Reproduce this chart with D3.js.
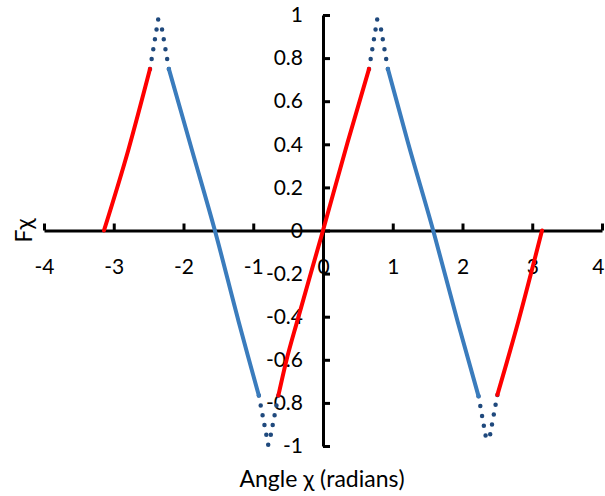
<!DOCTYPE html>
<html>
<head>
<meta charset="utf-8">
<script src="https://cdn.jsdelivr.net/npm/d3@7"></script>
<style>
  body { margin: 0; background: #fff; }
  text { font-family: Lato, "Open Sans", sans-serif; fill: #000; }
</style>
</head>
<body>
<div class="chart"></div>
<script>
// values
var xTicks = [-4, -3, -2, -1, 0, 1, 2, 3, 4]
var yTicks = [-1, -0.8, -0.6, -0.4, -0.2, 0, 0.2, 0.4, 0.6, 0.8, 1]

var redX = [[-3.14, -2.79, -2.48], [-0.64, -0.53, -0.36, 0, 0.35, 0.66], [2.5, 2.8, 3.14]]
var redY = [[0, 0.375, 0.75], [-0.766, -0.61, -0.41, 0, 0.406, 0.75], [-0.763, -0.422, 0]]

var blueX = [[-2.21, -1.88, -1.55, -1.21, -1.08, -0.92], [0.93, 1.22, 1.58, 1.93, 2.23]]
var blueY = [[0.75, 0.375, 0, -0.422, -0.578, -0.766], [0.75, 0.406, 0, -0.422, -0.769]]

var dotX = [[-2.48, -2.36], [-2.21, -2.33], [-0.92, -0.785], [-0.64, -0.77], [0.66, 0.78], [0.93, 0.81], [2.23, 2.355], [2.5, 2.375]]
var dotY = [[0.75, 0.985], [0.75, 0.975], [-0.766, -0.995], [-0.766, -0.985], [0.75, 0.985], [0.75, 0.975], [-0.769, -0.995], [-0.763, -0.985]]

var width = 605, height = 496

var svg = d3.select(".chart").append("svg").attr("width", width).attr("height", height)

var x = d3.scaleLinear().domain([-4, 4]).range([44, 602])
var y = d3.scaleLinear().domain([-1, 1]).range([446, 15])

var fmt = function(d) { return String(d) }

var xAxis = svg.append("g").attr("transform", "translate(0," + y(0) + ")")
    .call(d3.axisBottom(x).tickValues(xTicks).tickFormat(fmt).tickSize(-7).tickSizeOuter(0))
var yAxis = svg.append("g").attr("transform", "translate(" + x(0) + ",0)")
    .call(d3.axisLeft(y).tickValues(yTicks).tickFormat(fmt).tickSize(-7).tickSizeOuter(0).tickPadding(20))

svg.selectAll(".domain").attr("stroke", "#000").attr("stroke-width", 3)
svg.selectAll(".tick line").attr("stroke", "#000").attr("stroke-width", 3)
svg.selectAll(".tick text").style("font-size", "21px").attr("fill", "#000")
xAxis.selectAll(".tick text").attr("y", 43).attr("dy", null)
// last label sits at the window edge, keep it inside
xAxis.selectAll(".tick text").filter(function(d) { return d == 4 }).attr("text-anchor", "end").attr("x", 2)

function pts(xs, ys) { return xs.map(function(v, i) { return [x(v), y(ys[i])] }) }
var line = d3.line().curve(d3.curveMonotoneX)

// dotted parts go first so the solid line ends cover the first dot
dotX.forEach(function(xs, i) {
    svg.append("path").attr("d", d3.line()(pts(xs, dotY[i])))
       .attr("fill", "none").attr("stroke", "#1f497d").attr("stroke-width", 4.5)
       .attr("stroke-linecap", "round").attr("stroke-dasharray", "0 10")
})
blueX.forEach(function(xs, i) {
    svg.append("path").attr("d", line(pts(xs, blueY[i])))
       .attr("fill", "none").attr("stroke", "#3a7cbd").attr("stroke-width", 4).attr("stroke-linecap", "round")
})
redX.forEach(function(xs, i) {
    svg.append("path").attr("d", line(pts(xs, redY[i])))
       .attr("fill", "none").attr("stroke", "#ff0000").attr("stroke-width", 4).attr("stroke-linecap", "round")
})

svg.append("text").attr("x", 322).attr("y", 487).attr("text-anchor", "middle")
   .style("font-size", "23px").text("Angle χ (radians)")
svg.append("text").attr("transform", "translate(32," + y(0) + ") rotate(-90)").attr("text-anchor", "middle")
   .style("font-size", "23px").text("Fχ")
</script>
</body>
</html>
